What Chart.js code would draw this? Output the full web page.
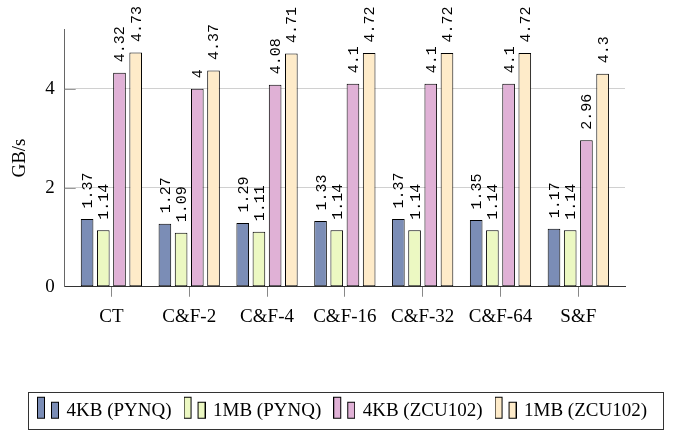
<!DOCTYPE html>
<html lang="en">
<head>
<meta charset="UTF-8">
<title>Throughput (GB/s)</title>
<script src="https://cdn.jsdelivr.net/npm/chart.js@4"></script>
<style>
  html, body { margin: 0; padding: 0; background: #fff; }
  #wrap { width: 678px; height: 432px; }
</style>
</head>
<body>
<div id="wrap"><canvas id="bw" width="678" height="432"></canvas></div>
<script>
// values
const categories = ['CT', 'C&F-2', 'C&F-4', 'C&F-16', 'C&F-32', 'C&F-64', 'S&F'];
const pynq4KB   = [1.37, 1.27, 1.29, 1.33, 1.37, 1.35, 1.17];
const pynq1MB   = [1.14, 1.09, 1.11, 1.14, 1.14, 1.14, 1.14];
const zcu4KB    = [4.32, 4.00, 4.08, 4.10, 4.10, 4.10, 2.96];
const zcu1MB    = [4.73, 4.37, 4.71, 4.72, 4.72, 4.72, 4.30];
const seriesNames  = ['4KB (PYNQ)', '1MB (PYNQ)', '4KB (ZCU102)', '1MB (ZCU102)'];
const seriesColors = ['#7b8db6', '#ecf8c2', '#e0b1d6', '#feebc9'];
const yTicks = [0, 2, 4];

const serif = 'Liberation Serif';
const fontSize = 19;

// legend image: two little bars like pgfplots' ybar legend
function legendIcon(color) {
    const c = document.createElement('canvas');
    c.width = 22; c.height = 32;
    const g = c.getContext('2d');
    g.fillStyle = color;
    g.strokeStyle = '#000';
    g.lineWidth = 1;
    g.fillRect(0.5, 2.5, 7, 21);  g.strokeRect(0.5, 2.5, 7, 21);
    g.fillRect(14.5, 7.5, 7, 16); g.strokeRect(14.5, 7.5, 7, 16);
    return c;
}
const icons = seriesColors.map(legendIcon);

const allSeries = [pynq4KB, pynq1MB, zcu4KB, zcu1MB];

const extras = {
    id: 'extras',
    afterDatasetsDraw(chart) {
        const ctx = chart.ctx;
        ctx.save();
        ctx.font = '15px "Liberation Mono"';
        ctx.fillStyle = '#000';
        ctx.textAlign = 'left';
        ctx.textBaseline = 'middle';
        chart.data.datasets.forEach((ds, i) => {
            chart.getDatasetMeta(i).data.forEach((bar, j) => {
                ctx.save();
                ctx.translate(bar.x + 1, bar.y - 10.5);
                ctx.rotate(-Math.PI / 2);
                ctx.fillText(String(allSeries[i][j]), 0, 0);
                ctx.restore();
            });
        });
        ctx.restore();
    },
    afterDraw(chart) {
        const ctx = chart.ctx;
        const y = chart.scales.y;
        const area = chart.chartArea;
        ctx.save();
        // small inner ticks on the y axis
        ctx.strokeStyle = '#999';
        ctx.lineWidth = 1;
        yTicks.filter(v => v > 0).forEach(v => {
            const py = Math.round(y.getPixelForValue(v)) + 0.5;
            ctx.beginPath();
            ctx.moveTo(area.left, py);
            ctx.lineTo(area.left + 11, py);
            ctx.stroke();
        });
        // frame around the legend
        const lg = chart.legend;
        const boxes = lg.legendHitBoxes;
        const l = Math.min(...boxes.map(b => b.left)) - 11;
        const r = Math.max(...boxes.map(b => b.left + b.width)) + 16;
        const mid = boxes[0].top + boxes[0].height / 2;
        ctx.strokeStyle = '#333';
        ctx.strokeRect(Math.round(l) + 0.5, Math.round(mid - 19) + 0.5,
                       Math.round(r - l), 37);
        ctx.restore();
    }
};

new Chart(document.getElementById('bw'), {
    type: 'bar',
    data: {
        datasets: allSeries.map((vals, i) => ({
            label: seriesNames[i],
            data: vals.map((v, k) => ({ x: k, y: v })),
            backgroundColor: seriesColors[i],
            borderColor: '#000',
            borderWidth: 1,
            borderSkipped: false,
            categoryPercentage: 0.833,
            barPercentage: 0.78
        }))
    },
    options: {
        responsive: false,
        animation: false,
        layout: { padding: { left: 8, right: 0, top: 29.3, bottom: 1.75 } },
        scales: {
            x: {
                type: 'linear',
                offset: false,
                min: -0.6,
                max: 6.6,
                afterBuildTicks: s => { s.ticks = categories.map((_, k) => ({ value: k })); },
                afterFit: s => { s.height = 100.5; },
                ticks: {
                    callback: v => categories[v] ?? '',
                    autoSkip: false,
                    maxRotation: 0,
                    padding: 9,
                    color: '#000',
                    font: { family: serif, size: fontSize }
                },
                grid: { offset: false, drawOnChartArea: false, drawTicks: true, tickLength: 10, color: '#888' },
                border: { display: true, color: '#333', width: 1 }
            },
            y: {
                min: 0,
                max: 5.2,
                afterBuildTicks: s => { s.ticks = yTicks.map(v => ({ value: v })); },
                afterFit: s => { s.width = 56.7; },
                ticks: {
                    padding: 10,
                    color: '#000',
                    font: { family: serif, size: fontSize }
                },
                grid: {
                    drawTicks: false,
                    color: c => (c.tick && c.tick.value === 0) ? 'rgba(0,0,0,0)' : '#d0d0d0'
                },
                border: { display: true, color: '#666', width: 1 },
                title: {
                    display: true,
                    text: 'GB/s',
                    color: '#000',
                    padding: { top: 1, bottom: 0 },
                    font: { family: serif, size: fontSize }
                }
            },
            pad: {
                type: 'linear',
                position: 'right',
                display: true,
                afterFit: s => { s.width = 53; },
                ticks: { display: false },
                grid: { display: false },
                border: { display: false }
            }
        },
        plugins: {
            tooltip: { enabled: false },
            legend: {
                position: 'bottom',
                labels: {
                    usePointStyle: true,
                    pointStyleWidth: 18,
                    padding: 14,
                    color: '#000',
                    font: { family: serif, size: fontSize },
                    generateLabels: chart => Chart.defaults.plugins.legend.labels.generateLabels(chart)
                        .map((it, i) => ({ ...it, pointStyle: icons[i] }))
                }
            }
        }
    },
    plugins: [extras]
});
</script>
</body>
</html>
